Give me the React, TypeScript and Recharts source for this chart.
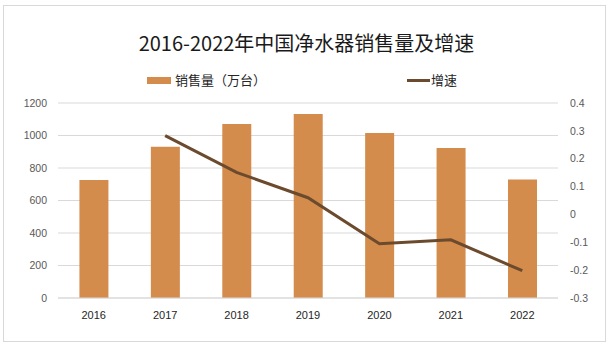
import React from 'react';
import { ComposedChart, Bar, Line, XAxis, YAxis, CartesianGrid, Legend } from 'recharts';

const years = ['2016', '2017', '2018', '2019', '2020', '2021', '2022'];
const sales = [726, 931, 1071, 1132, 1015, 923, 730];
const growth: (number | null)[] = [null, 0.283, 0.151, 0.06, -0.105, -0.091, -0.202];
const leftTicks = [0, 200, 400, 600, 800, 1000, 1200];
const rightTicks = [-0.3, -0.2, -0.1, 0, 0.1, 0.2, 0.3, 0.4];

const title = '2016-2022年中国净水器销售量及增速';
const salesName = '销售量（万台）';
const growthName = '增速';

const BAR_COLOR = '#D48C4D';
const LINE_COLOR = '#6B4A2D';
const CJK = '"Microsoft YaHei", "Noto Sans CJK SC", sans-serif';
const LATIN = '"Liberation Sans", Arial, sans-serif';

const data = years.map((y, i) => ({ year: y, sales: sales[i], growth: growth[i] }));

const LegendContent = () => (
  <div style={{ position: 'relative', width: 613, height: 0 }}>
    <div style={{ position: 'absolute', left: 147, top: 77, width: 24, height: 7, background: BAR_COLOR }} />
    <span style={{ position: 'absolute', left: 175, top: 71, fontSize: 13, lineHeight: '18px', fontFamily: CJK, color: '#262626', whiteSpace: 'nowrap' }}>{salesName}</span>
    <div style={{ position: 'absolute', left: 407, top: 79, width: 23, height: 3, background: LINE_COLOR }} />
    <span style={{ position: 'absolute', left: 431, top: 71, fontSize: 13, lineHeight: '18px', fontFamily: CJK, color: '#262626', whiteSpace: 'nowrap' }}>{growthName}</span>
  </div>
);

export default function App() {
  return (
    <div style={{ position: 'absolute', left: 0, top: 0, width: 613, height: 351, background: '#fff', overflow: 'hidden' }}>
      <div style={{ position: 'absolute', left: 3, top: 5, width: 603, height: 337, border: '1px solid #d9d9d9', boxSizing: 'border-box' }} />
      <div style={{ position: 'absolute', left: 0, top: 30, width: 613, textAlign: 'center', fontSize: 20, lineHeight: '26px', fontFamily: CJK, color: '#1a1a1a' }}>{title}</div>
      <ComposedChart width={613} height={351} data={data} margin={{ top: 103, right: 0, bottom: 23, left: 0 }} barCategoryGap="30%">
        <CartesianGrid yAxisId="left" vertical={false} stroke="#d9d9d9" />
        <XAxis dataKey="year" height={30} tickLine={false} axisLine={{ stroke: '#d9d9d9' }} tickMargin={7} tick={{ fontSize: 11, fill: '#262626', fontFamily: LATIN }} interval={0} />
        <YAxis yAxisId="left" width={58} domain={[0, 1200]} ticks={leftTicks} axisLine={false} tickLine={false} tickMargin={5} tick={{ fontSize: 10.5, fill: '#595959', fontFamily: LATIN }} interval={0} />
        <YAxis yAxisId="right" orientation="right" width={55} domain={[-0.3, 0.4]} ticks={rightTicks} axisLine={false} tickLine={false} tickMargin={6} tick={{ fontSize: 10.5, fill: '#595959', fontFamily: LATIN }} tickFormatter={(v: number) => String(Math.round(v * 10) / 10)} interval={0} />
        <Legend content={<LegendContent />} wrapperStyle={{ position: 'absolute', top: 0, left: 0, width: 613, height: 0 }} />
        <Bar yAxisId="left" dataKey="sales" name={salesName} fill={BAR_COLOR} isAnimationActive={false} />
        <Line yAxisId="right" dataKey="growth" name={growthName} stroke={LINE_COLOR} strokeWidth={3} dot={false} activeDot={false} isAnimationActive={false} type="linear" />
      </ComposedChart>
    </div>
  );
}
